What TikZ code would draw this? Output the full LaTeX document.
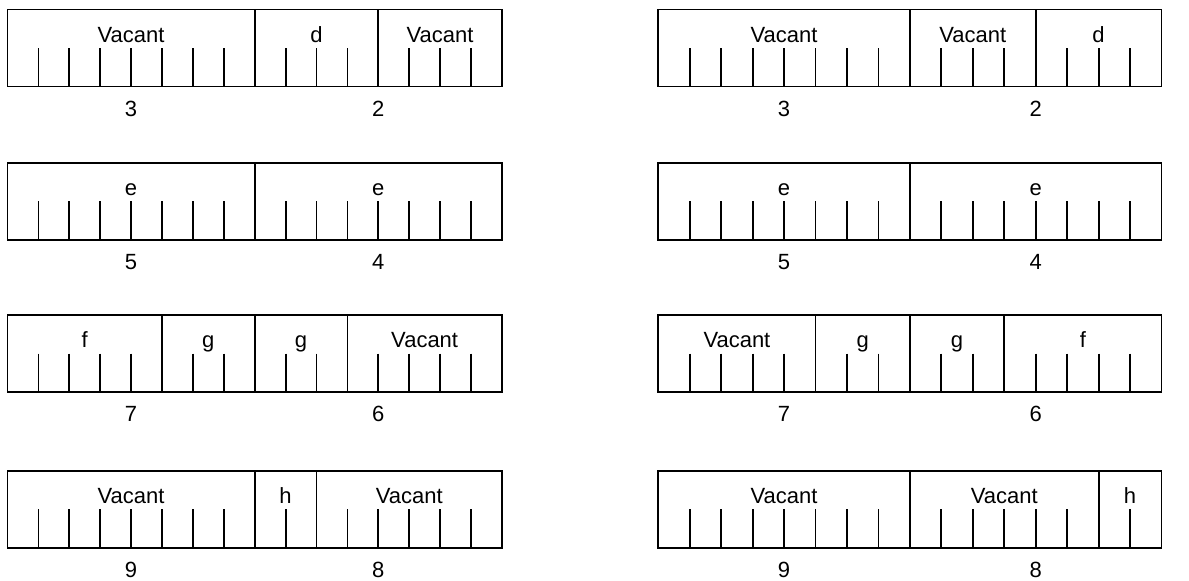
\documentclass[tikz,border=0pt]{standalone}
\usepackage{fontspec}
\setmainfont{Liberation Sans}
\tikzset{
  boxline/.style={draw=black, line width=1.8pt},
  slottext/.style={anchor=base, inner sep=0pt, font=\fontsize{22}{26}\selectfont},
  numtext/.style={anchor=base, inner sep=0pt, font=\fontsize{22}{26}\selectfont}
}
% #1 row id, #2 x0, #3 unit, #4 ytop, #5 dividers, #6 segments a/b/text, #7 left number, #8 right number
\newcommand\slotrow[8]{%
  \begin{scope}[shift={(#2,#4)}]
    \draw[boxline] (0,0) rectangle ({16*#3},77);
    \foreach \i in {1,...,15} \draw[boxline] ({\i*#3},38.5) -- ({\i*#3},77);
    \foreach \d in {#5} \draw[boxline] ({\d*#3},0) -- ({\d*#3},38.5);
    \foreach \a/\b/\t in {#6} \node[slottext] (#1-\a) at ({(\a+\b)/2*#3},32.5) {\t};
    \node[numtext] (#1-numL) at ({4*#3},106.5) {#7};
    \node[numtext] (#1-numR) at ({12*#3},106.5) {#8};
  \end{scope}}
\begin{document}
\begin{tikzpicture}[x=1pt,y=-1pt]
\useasboundingbox (0,0) rectangle (1189,581);
% left column
\slotrow{L1}{7.5}{30.9}{9.5}{8,12}{0/8/Vacant,8/12/d,12/16/Vacant}{3}{2}
\slotrow{L2}{7.5}{30.9}{162.7}{8}{0/8/e,8/16/e}{5}{4}
\slotrow{L3}{7.5}{30.9}{315}{5,8,11}{0/5/f,5/8/g,8/11/g,11/16/Vacant}{7}{6}
\slotrow{L4}{7.5}{30.9}{470.7}{8,10}{0/8/Vacant,8/10/h,10/16/Vacant}{9}{8}
% right column
\slotrow{R1}{658.3}{31.45}{9.5}{8,12}{0/8/Vacant,8/12/Vacant,12/16/d}{3}{2}
\slotrow{R2}{658.3}{31.45}{162.7}{8}{0/8/e,8/16/e}{5}{4}
\slotrow{R3}{658.3}{31.45}{315}{5,8,11}{0/5/Vacant,5/8/g,8/11/g,11/16/f}{7}{6}
\slotrow{R4}{658.3}{31.45}{470.7}{8,14}{0/8/Vacant,8/14/Vacant,14/16/h}{9}{8}
\end{tikzpicture}
\end{document}
